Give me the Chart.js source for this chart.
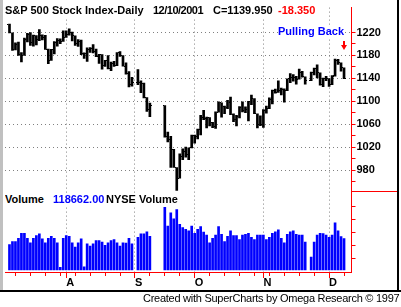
<!DOCTYPE html>
<html><head><meta charset="utf-8">
<script src="https://cdn.jsdelivr.net/npm/chart.js@4.4.0/dist/chart.umd.min.js"></script>
<style>
html,body{margin:0;padding:0;background:#fff;}
#wrap{position:relative;width:401px;height:307px;overflow:hidden;background:#fff;}
#c{position:absolute;left:0;top:0;}
.t{position:absolute;font:bold 11px 'Liberation Sans',Arial,sans-serif;line-height:13px;white-space:nowrap;background:#fff;color:#000;}
.f{position:absolute;font:11px 'Liberation Sans',Arial,sans-serif;line-height:13px;white-space:nowrap;color:#000;letter-spacing:-0.26px;}
.box{position:absolute;}
</style></head><body>
<div id="wrap">
<canvas id="c" width="401" height="307"></canvas>
<div class="box" style="left:0;top:0;width:3px;height:290px;background:#c0c0c0"></div>
<div class="box" style="left:397px;top:0;width:2px;height:290px;background:#000"></div>
<div class="box" style="left:0;top:290px;width:401px;height:2px;background:#000"></div>
<div class="box" style="left:352px;top:191px;width:45px;height:1px;background:#ff0000"></div>
<div class="t" style="left:5px;top:4px">S&amp;P 500 Stock Index-Daily</div>
<div class="t" style="left:153px;top:4px;letter-spacing:-0.5px">12/10/2001</div>
<div class="t" style="left:213px;top:4px">C=1139.950</div>
<div class="t" style="left:278px;top:4px;color:#ff0000">-18.350</div>
<div class="t" style="left:278px;top:25px;color:#0000ff">Pulling Back</div>
<div class="box" style="left:343px;top:41px;width:2px;height:4px;background:#ff0000"></div>
<div class="box" style="left:341px;top:45px;width:0;height:0;border-left:3px solid transparent;border-right:3px solid transparent;border-top:5px solid #ff0000"></div>
<div class="t" style="left:5px;top:193px">Volume</div>
<div class="t" style="left:53px;top:193px;color:#0000ff">118662.00</div>
<div class="t" style="left:106px;top:193px">NYSE Volume</div>
<div class="f" style="left:143px;top:292px">Created with SuperCharts by Omega Research © 1997</div>
</div>
<script>
// Categories: weekday slots (holidays and padding slots carry null values)
const dates = [
 '7/4','7/5','7/6','7/9','7/10','7/11','7/12','7/13','7/16','7/17','7/18','7/19','7/20','7/23','7/24','7/25','7/26','7/27','7/30','7/31',
 '8/1','8/2','8/3','8/6','8/7','8/8','8/9','8/10','8/13','8/14','8/15','8/16','8/17','8/20','8/21','8/22','8/23','8/24','8/27','8/28','8/29','8/30','8/31',
 '9/3','9/4','9/5','9/6','9/7','9/10','9/11','9/12','9/13','9/14','9/17','9/18','9/19','9/20','9/21','9/24','9/25','9/26','9/27','9/28',
 '10/1','10/2','10/3','10/4','10/5','10/8','10/9','10/10','10/11','10/12','10/15','10/16','10/17','10/18','10/19','10/22','10/23','10/24','10/25','10/26','10/29','10/30','10/31',
 '11/1','11/2','11/5','11/6','11/7','11/8','11/9','11/12','11/13','11/14','11/15','11/16','11/19','11/20','11/21','11/22','11/23','11/26','11/27','11/28','11/29','11/30',
 '12/3','12/4','12/5','12/6','12/7','12/10','12/11','12/12'
];
const monthLabels = {'8/1':'A','9/3':'S','10/1':'O','11/1':'N','12/3':'D'};

const openP = [
 null,1234.45,1219.24,1190.59,1198.78,1181.52,1180.18,1208.14,1215.68,1202.45,1214.44,1207.71,1215.02,1210.85,1191.03,1171.65,1190.49,1202.93,1205.82,1204.52,
 1211.23,1215.93,1220.75,1214.35,1200.48,1204.40,1183.53,1183.43,1190.16,1191.29,1186.73,1178.02,1181.66,1161.97,1171.41,1157.26,1165.31,1162.09,1184.93,1179.21,1161.51,1148.56,1129.03,
 null,1133.58,1132.94,1131.74,1106.40,1085.78,null,null,null,null,1092.54,1038.77,1032.74,1016.10,984.54,965.80,1003.45,1012.27,1007.04,1018.61,
 1040.94,1038.55,1051.33,1072.28,1069.63,1071.38,1062.44,1056.75,1080.99,1097.43,1091.65,1089.98,1097.54,1077.09,1068.61,1073.48,1089.90,1084.78,1085.20,1100.09,1104.61,1078.30,1059.79,
 1059.78,1084.10,1087.20,1102.84,1118.86,1115.80,1118.54,1120.31,1118.33,1139.09,1141.21,1142.24,1138.65,1151.06,1142.66,null,1137.03,1150.34,1157.42,1149.50,1128.52,1140.20,
 1139.45,1129.90,1143.77,1170.35,1167.10,1158.31,null,null
];
const highP = [
 null,1234.45,1219.24,1201.76,1203.43,1184.93,1210.25,1218.54,1219.63,1215.36,1214.44,1225.04,1215.69,1215.22,1191.03,1190.52,1204.18,1209.26,1209.05,1222.74,
 1223.04,1226.27,1220.75,1214.35,1207.56,1206.79,1184.71,1193.33,1193.82,1198.79,1191.21,1181.80,1181.66,1171.41,1179.85,1168.56,1169.86,1185.15,1186.85,1179.66,1166.97,1151.75,1141.83,
 null,1155.40,1135.52,1131.74,1106.40,1096.94,null,null,null,null,1092.54,1046.42,1038.91,1016.10,984.54,1008.44,1017.14,1020.29,1018.92,1040.94,
 1040.94,1051.33,1075.38,1084.12,1072.35,1071.38,1063.37,1081.62,1099.16,1097.43,1091.65,1101.66,1107.12,1077.94,1075.52,1090.57,1098.99,1090.26,1100.09,1110.61,1104.61,1078.30,1074.79,
 1085.61,1091.85,1106.21,1119.73,1121.48,1135.75,1123.02,1121.71,1139.14,1148.54,1146.46,1143.52,1156.07,1152.45,1142.66,null,1151.06,1157.88,1163.38,1149.50,1140.40,1143.57,
 1139.45,1144.80,1173.62,1173.35,1167.10,1158.31,null,null
];
const lowP = [
 null,1219.15,1188.74,1189.75,1179.93,1168.46,1180.18,1203.61,1197.44,1196.14,1198.33,1205.80,1207.04,1190.50,1165.54,1171.28,1182.65,1195.99,1200.41,1204.52,
 1211.23,1215.31,1205.31,1197.35,1195.64,1181.27,1174.68,1169.55,1185.12,1184.26,1177.61,1166.08,1156.07,1160.94,1156.56,1153.34,1160.96,1162.09,1178.07,1161.17,1147.38,1124.87,1126.38,
 null,1129.06,1114.86,1105.83,1082.12,1073.15,null,null,null,null,1037.46,1029.25,984.62,984.49,944.75,965.80,998.33,1002.62,998.24,1018.61,
 1026.76,1034.47,1041.48,1067.82,1053.50,1056.88,1053.83,1052.76,1080.99,1072.15,1078.19,1087.13,1076.57,1064.54,1057.24,1070.79,1081.53,1079.98,1065.64,1094.24,1078.30,1053.61,1057.55,
 1054.31,1079.46,1087.20,1095.36,1113.98,1115.42,1111.01,1098.32,1118.33,1132.44,1135.06,1129.92,1138.65,1142.17,1129.78,null,1135.90,1146.17,1140.81,1128.29,1125.51,1135.89,
 1125.78,1128.86,1143.77,1164.43,1152.66,1139.66,null,null
];
const closeP = [
 null,1219.24,1190.59,1198.78,1181.52,1180.18,1208.14,1215.68,1202.45,1214.44,1207.71,1215.02,1210.85,1191.03,1171.65,1190.49,1202.93,1205.82,1204.52,1211.23,
 1215.93,1220.75,1214.35,1200.48,1204.40,1183.53,1183.43,1190.16,1191.29,1186.73,1178.02,1181.66,1161.97,1171.41,1157.26,1165.31,1162.09,1184.93,1179.21,1161.51,1148.56,1129.03,1133.58,
 null,1132.94,1131.74,1106.40,1085.78,1092.54,null,null,null,null,1038.77,1032.74,1016.10,984.54,965.80,1003.45,1012.27,1007.04,1018.61,1040.94,
 1038.55,1051.33,1072.28,1069.63,1071.38,1062.44,1056.75,1080.99,1097.43,1091.65,1089.98,1097.54,1077.09,1068.61,1073.48,1089.90,1084.78,1085.20,1100.09,1104.61,1078.30,1059.79,1059.78,
 1084.10,1087.20,1102.84,1118.86,1115.80,1118.54,1120.31,1118.33,1139.09,1141.21,1142.24,1138.65,1151.06,1142.66,1137.03,null,1150.34,1157.42,1149.50,1128.52,1140.20,1139.45,
 1129.90,1144.80,1170.35,1167.10,1158.31,1139.95,null,null
];
const volume = [
 null,94000,106000,106000,119000,140000,140000,119000,101000,119000,130000,138000,117000,101000,119000,127000,119000,101000,3000,119000,
 130000,127000,101000,84000,101000,117000,5000,97000,88000,97000,110000,110000,104000,91000,101000,110000,114000,101000,88000,101000,100000,119000,97000,
 null,123000,138000,138000,146000,127000,null,null,null,null,244000,169000,222000,198000,235000,176000,163000,156000,150000,169000,
 140000,156000,167000,145000,133000,101000,119000,133000,167000,136000,106000,127000,150000,130000,130000,114000,133000,136000,140000,123000,114000,133000,133000,
 133000,114000,123000,140000,146000,154000,119000,101000,136000,146000,150000,136000,133000,133000,104000,null,44000,104000,133000,140000,139000,133000,
 123000,133000,182000,150000,126000,118662,null,null
];
const priceMajor = [980,1020,1060,1100,1140,1180,1220];
const volMajor = [100000,200000];

const RED = '#ff0000', GRID = '#808080';
const FONT = {family:"'Liberation Sans', Arial, sans-serif", size:11, weight:'bold'};

function isMonday(lbl){ const p = lbl.split('/').map(Number); return new Date(2001, p[0]-1, p[1]).getDay() === 1; }
function tickImg(col){ const c = document.createElement('canvas'); c.width = 4; c.height = 1; const g = c.getContext('2d'); g.fillStyle = '#000'; g.fillRect(col, 0, 1, 1); return c; }

const hlData = highP.map((h, k) => h == null ? null : [lowP[k], h]);

const crisp = { id:'crisp', beforeDatasetsDraw(chart){ chart.ctx.imageSmoothingEnabled = false; } };

new Chart(document.getElementById('c'), {
  type: 'bar',
  data: {
    labels: dates,
    datasets: [
      { type:'line', data: openP, yAxisID:'y', showLine:false, pointStyle: tickImg(0), pointRadius:1, pointHitRadius:0 },
      { type:'line', data: closeP, yAxisID:'y', showLine:false, pointStyle: tickImg(3), pointRadius:1, pointHitRadius:0 },
      { type:'bar', data: hlData, yAxisID:'y', backgroundColor:'#000', borderWidth:0, barThickness:2, maxBarThickness:2, grouped:false },
      { type:'bar', data: volume, yAxisID:'yv', backgroundColor:'#0000ff', borderWidth:0, barThickness:2, maxBarThickness:2, grouped:false, base:-7500 }
    ]
  },
  options: {
    responsive:false, animation:false, events:[],
    layout:{ padding:{ left:3.5, top:3, right:4.5, bottom:15 } },
    plugins:{ legend:{display:false}, tooltip:{enabled:false} },
    scales: {
      x: {
        type:'category', offset:true,
        grid:{
          offset:false, lineWidth:1, tickLength:6,
          color: c => monthLabels[dates[c.index]] ? GRID : 'transparent',
          tickColor: c => (monthLabels[dates[c.index]] || isMonday(dates[c.index])) ? RED : 'transparent',
          tickBorderDash: c => monthLabels[dates[c.index]] ? [] : [3, 20]
        },
        border:{ color:RED, width:1, dash:[1,3] },
        ticks:{ autoSkip:false, maxRotation:0, minRotation:0, align:'start', padding:-2, color:'#000', font:FONT,
          callback: (v) => monthLabels[dates[v]] || '' },
        afterFit: s => { s.height = 20; }
      },
      y: {
        type:'linear', position:'right', stack:'panes', stackWeight:189, min:939.4, max:1263.4,
        grid:{ lineWidth:1, tickLength:4, tickBorderDash:[],
          color: c => priceMajor.includes(c.tick.value) ? GRID : 'transparent',
          tickColor: c => (c.tick.value >= 960 && c.tick.value <= 1220) ? RED : 'transparent' },
        border:{ color:RED, width:1, dash:[1,3] },
        ticks:{ stepSize:20, includeBounds:false, autoSkip:false, padding:1, color:'#000', font:FONT,
          callback: v => priceMajor.includes(v) ? String(v) : '' },
        afterFit: s => { s.width = 45; }
      },
      yv: {
        type:'linear', position:'right', stack:'panes', stackWeight:80, min:-15400, max:299600,
        grid:{ lineWidth:1, tickLength:4, tickBorderDash:[],
          color: c => volMajor.includes(c.tick.value) ? GRID : 'transparent',
          tickColor: c => (c.tick.value >= 0 && c.tick.value <= 250000) ? RED : 'transparent' },
        border:{ color:RED, width:1, dash:[1,3] },
        ticks:{ stepSize:50000, includeBounds:false, autoSkip:false, padding:1, color:'#000', font:FONT,
          callback: v => volMajor.includes(v) ? String(v) : '' },
        afterFit: s => { s.width = 45; }
      }
    }
  },
  plugins:[crisp]
});
</script>
</body></html>
